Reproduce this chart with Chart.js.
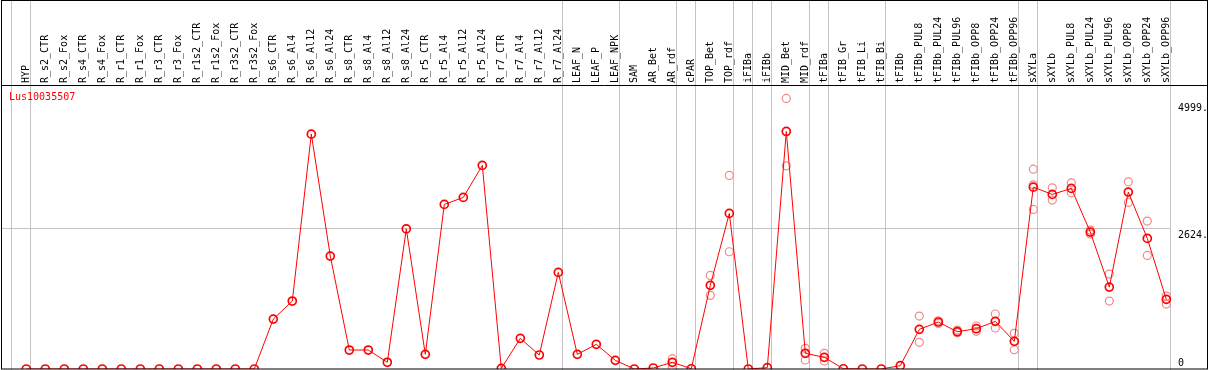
<!DOCTYPE html>
<html>
<head>
<meta charset="utf-8">
<script src="https://cdn.jsdelivr.net/npm/chart.js@4.4.1/dist/chart.umd.min.js"></script>
<style>
  html, body { margin: 0; padding: 0; background: #fff; }
  canvas { display: block; }
</style>
</head>
<body>
<canvas id="exprChart" width="1209" height="370"></canvas>
<script>
const N = null;

const categories = [
    'HYP', 'R_s2_CTR', 'R_s2_Fox', 'R_s4_CTR', 'R_s4_Fox', 'R_r1_CTR', 'R_r1_Fox', 'R_r3_CTR', 'R_r3_Fox', 'R_r1s2_CTR',
    'R_r1s2_Fox', 'R_r3s2_CTR', 'R_r3s2_Fox', 'R_s6_CTR', 'R_s6_Al4', 'R_s6_Al12', 'R_s6_Al24', 'R_s8_CTR', 'R_s8_Al4', 'R_s8_Al12',
    'R_s8_Al24', 'R_r5_CTR', 'R_r5_Al4', 'R_r5_Al12', 'R_r5_Al24', 'R_r7_CTR', 'R_r7_Al4', 'R_r7_Al12', 'R_r7_Al24', 'LEAF_N',
    'LEAF_P', 'LEAF_NPK', 'SAM', 'AR_Bet', 'AR_rdf', 'cPAR', 'TOP_Bet', 'TOP_rdf', 'iFIBa', 'iFIBb',
    'MID_Bet', 'MID_rdf', 'tFIBa', 'tFIB_Gr', 'tFIB_Li', 'tFIB_Bi', 'tFIBb', 'tFIBb_PUL8', 'tFIBb_PUL24', 'tFIBb_PUL96',
    'tFIBb_OPP8', 'tFIBb_OPP24', 'tFIBb_OPP96', 'sXYLa', 'sXYLb', 'sXYLb_PUL8', 'sXYLb_PUL24', 'sXYLb_PUL96', 'sXYLb_OPP8', 'sXYLb_OPP24',
    'sXYLb_OPP96'
];

// mean expression per sample
const meanValues = [
    0, 0, 0, 0, 0, 0, 0, 0, 0, 0,
    0, 0, 0, 932, 1268, 4383, 2107, 354, 354, 125,
    2615, 274, 3071, 3202, 3799, 10, 572, 261, 1803, 274,
    460, 162, 0, 19, 125, 5, 1561, 2903, 0, 25,
    4433, 293, 218, 5, 0, 0, 62, 740, 877, 696,
    752, 889, 516, 3394, 3258, 3370, 2555, 1529, 3301, 2437,
    1300
];

// replicates (only where they stand apart from the mean)
const rep1 = [
    N, N, N, N, N, N, N, N, N, N,
    N, N, N, N, N, N, N, N, N, N,
    N, N, N, N, N, N, N, N, N, N,
    N, N, N, N, 192, N, 1747, 3612, N, N,
    5049, 386, 293, N, N, N, N, 988, 900, 727,
    802, 1026, 665, 3730, 3381, 3475, 2592, 1772, 3493, 2760,
    1361
];
const rep2 = [
    N, N, N, N, N, N, N, N, N, N,
    N, N, N, N, N, N, N, N, N, N,
    N, N, N, N, N, N, N, N, N, N,
    N, N, N, N, 43, N, 1374, 2188, N, N,
    3792, 168, 149, N, N, N, N, 498, 850, 677,
    703, 765, 361, 2978, 3152, 3288, 2518, 1268, 3109, 2120,
    1212
];
const rep3 = [
    N, N, N, N, N, N, N, N, N, N,
    N, N, N, N, N, N, N, N, N, N,
    N, N, N, N, N, N, N, N, N, N,
    N, N, N, N, N, N, N, N, N, N,
    N, N, N, N, N, N, N, N, N, N,
    N, N, N, 3437, N, N, N, N, N, N,
    N
];

// last sample index of each group (separator lines)
const groupEnds = [-1, 0, 28, 31, 34, 35, 37, 38, 39, 41, 42, 45, 52, 53, 60];

const yTickValues = [0, 2624, 4999];
const geneName = 'Lus10035507';

const monoFont = { family: 'DejaVu Sans Mono', size: 10 };

function toPoints(arr) {
    return arr.map((v, i) => ({ x: i, y: v }));
}

function repSet(name, arr) {
    return {
        label: name,
        data: toPoints(arr),
        showLine: false,
        pointRadius: 4,
        pointBorderWidth: 1.2,
        pointBorderColor: '#ef8a8a',
        pointBackgroundColor: 'rgba(0,0,0,0)',
        order: 1
    };
}

const framePlugin = {
    id: 'frame',
    beforeDatasetsDraw(chart) {
        const ctx = chart.ctx;
        const xs = chart.scales.x;
        ctx.save();
        ctx.strokeStyle = '#c4c4c4';
        ctx.lineWidth = 1;
        groupEnds.forEach(i => {
            const px = Math.floor(xs.getPixelForValue(i) + 4) + 0.5;
            ctx.beginPath();
            ctx.moveTo(px, 0);
            ctx.lineTo(px, chart.height);
            ctx.stroke();
        });
        ctx.restore();
    },
    afterDraw(chart) {
        const ctx = chart.ctx;
        const area = chart.chartArea;
        ctx.save();
        ctx.strokeStyle = '#000';
        ctx.lineWidth = 1;
        ctx.strokeRect(1.5, 0.5, chart.width - 3, chart.height - 1.5);
        ctx.beginPath();
        ctx.moveTo(1, area.top + 0.5);
        ctx.lineTo(chart.width - 1, area.top + 0.5);
        ctx.stroke();
        ctx.fillStyle = 'red';
        ctx.font = '10px "DejaVu Sans Mono"';
        ctx.textBaseline = 'alphabetic';
        ctx.fillText(geneName, 9, area.top + 15);
        ctx.restore();
    }
};

const ctx = document.getElementById('exprChart').getContext('2d');
new Chart(ctx, {
    type: 'line',
    data: {
        datasets: [{
            label: geneName,
            data: toPoints(meanValues),
            borderColor: 'red',
            borderWidth: 1,
            pointRadius: 4,
            pointBorderWidth: 1.7,
            pointBorderColor: 'red',
            pointBackgroundColor: 'rgba(0,0,0,0)',
            tension: 0,
            order: 0
        },
        repSet('rep1', rep1),
        repSet('rep2', rep2),
        repSet('rep3', rep3)]
    },
    options: {
        responsive: false,
        animation: false,
        devicePixelRatio: 1,
        layout: { autoPadding: false, padding: { left: 2, top: 0, right: 0, bottom: 1 } },
        plugins: {
            legend: { display: false },
            tooltip: { enabled: false }
        },
        scales: {
            x: {
                type: 'linear',
                position: 'top',
                min: -1.279,
                max: 60.247,
                grid: { display: false, drawTicks: false },
                border: { display: false },
                afterBuildTicks: (scale) => {
                    scale.ticks = categories.map((c, i) => ({ value: i }));
                },
                afterFit: (scale) => {
                    scale.height = 85;
                    scale.paddingLeft = 0;
                    scale.paddingRight = 0;
                },
                ticks: {
                    autoSkip: false,
                    minRotation: 90,
                    maxRotation: 90,
                    padding: 2,
                    labelOffset: 12,
                    color: '#000',
                    font: monoFont,
                    callback: (v) => categories[v]
                }
            },
            y: {
                position: 'right',
                min: 0,
                max: 5300,
                border: { display: false },
                grid: {
                    drawTicks: false,
                    lineWidth: 1,
                    color: (c) => (c.tick && c.tick.value === 2624) ? '#c4c4c4' : 'rgba(0,0,0,0)'
                },
                afterBuildTicks: (scale) => {
                    scale.ticks = yTickValues.filter(v => v > 0).map(v => ({ value: v }));
                },
                afterFit: (scale) => {
                    scale.width = 38;
                    scale.paddingTop = 0;
                    scale.paddingBottom = 0;
                },
                ticks: {
                    align: 'start',
                    padding: 7,
                    labelOffset: 2,
                    color: '#000',
                    font: monoFont,
                    callback: (v) => v + '.'
                }
            },
            y0: {
                position: 'right',
                weight: -1,
                min: 0,
                max: 5300,
                border: { display: false },
                grid: { display: false, drawTicks: false },
                afterBuildTicks: (scale) => {
                    scale.ticks = yTickValues.filter(v => v === 0).map(v => ({ value: v }));
                },
                afterFit: (scale) => {
                    scale.width = 0;
                    scale.paddingTop = 0;
                    scale.paddingBottom = 0;
                },
                ticks: {
                    align: 'end',
                    mirror: true,
                    padding: 13,
                    labelOffset: -1,
                    color: '#000',
                    font: monoFont,
                    callback: (v) => String(v)
                }
            }
        }
    },
    plugins: [framePlugin]
});
</script>
</body>
</html>
